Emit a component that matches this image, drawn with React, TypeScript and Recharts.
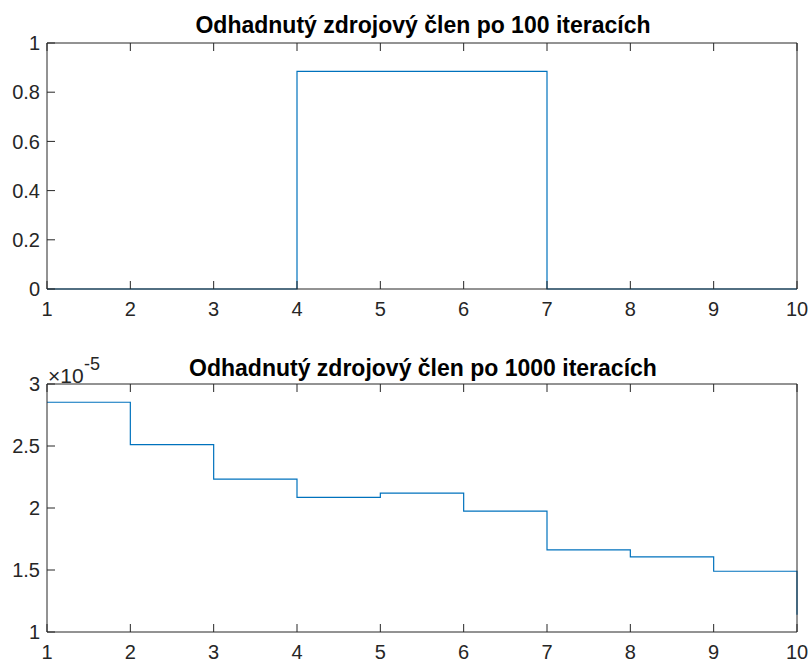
import { LineChart, Line, XAxis, YAxis } from 'recharts'

// ─── Data ──────────────────────────────────────────────────────────────────────

const xValues = [1, 2, 3, 4, 5, 6, 7, 8, 9, 10]
const xTicks = [1, 2, 3, 4, 5, 6, 7, 8, 9, 10]

// estimate after 100 iterations
const source100 = [0, 0, 0, 0.885, 0.885, 0.885, 0, 0, 0, 0]
const yTicks100 = [0, 0.2, 0.4, 0.6, 0.8, 1]

// estimate after 1000 iterations, in units of 1e-5
const source1000 = [2.853, 2.511, 2.233, 2.085, 2.12, 1.974, 1.663, 1.606, 1.49, 1.14]
const yTicks1000 = [1, 1.5, 2, 2.5, 3]

const title100 = 'Odhadnutý zdrojový člen po 100 iteracích'
const title1000 = 'Odhadnutý zdrojový člen po 1000 iteracích'

// ─── Style ─────────────────────────────────────────────────────────────────────

const AXIS = '#262626'
const LINE = '#0072BD'
const FONT = '"Liberation Sans", Arial, Helvetica, sans-serif'
const tickStyle = { fontSize: 20, fill: AXIS, fontFamily: FONT }
const noLabel = () => ''

interface PanelProps {
  values: number[]
  yDomain: [number, number]
  yTicks: number[]
  topPad: number
  bottomPad: number
  height: number
}

function StairsPanel({ values, yDomain, yTicks, topPad, bottomPad, height }: PanelProps) {
  const data = xValues.map((x, i) => ({ x, y: values[i] }))
  return (
    <LineChart width={811} height={height} data={data} margin={{ top: 0, right: 0, bottom: 0, left: 0 }}>
      <XAxis
        dataKey="x"
        type="number"
        domain={[1, 10]}
        ticks={xTicks}
        height={bottomPad}
        tickSize={-8}
        tickMargin={21}
        stroke={AXIS}
        tick={tickStyle}
        interval={0}
      />
      <XAxis
        xAxisId="top"
        orientation="top"
        dataKey="x"
        type="number"
        domain={[1, 10]}
        ticks={xTicks}
        height={topPad}
        tickSize={-8}
        stroke={AXIS}
        tickFormatter={noLabel}
        interval={0}
      />
      <YAxis
        type="number"
        domain={yDomain}
        ticks={yTicks}
        width={47}
        tickSize={-8}
        tickMargin={15}
        stroke={AXIS}
        tick={tickStyle}
        interval={0}
      />
      <YAxis
        yAxisId="right"
        orientation="right"
        type="number"
        domain={yDomain}
        ticks={yTicks}
        width={14}
        tickSize={-8}
        stroke={AXIS}
        tickFormatter={noLabel}
        interval={0}
      />
      <Line
        type="stepAfter"
        dataKey="y"
        stroke={LINE}
        strokeWidth={1.2}
        dot={false}
        isAnimationActive={false}
      />
    </LineChart>
  )
}

export default function App() {
  return (
    <div style={{ position: 'absolute', left: 0, top: 0, width: 811, height: 662, background: '#fff' }}>
      <div style={{ position: 'absolute', left: 0, top: 0 }}>
        <StairsPanel values={source100} yDomain={[0, 1]} yTicks={yTicks100} topPad={43} bottomPad={42} height={331} />
      </div>
      <div style={{ position: 'absolute', left: 0, top: 331 }}>
        <StairsPanel values={source1000} yDomain={[1, 3]} yTicks={yTicks1000} topPad={53} bottomPad={30} height={331} />
      </div>
      <svg width={811} height={662} style={{ position: 'absolute', left: 0, top: 0, pointerEvents: 'none' }}>
        <text x={423} y={33} textAnchor="middle" fontFamily={FONT} fontWeight="bold" fontSize={23} fill="#000">
          {title100}
        </text>
        <text x={423} y={376} textAnchor="middle" fontFamily={FONT} fontWeight="bold" fontSize={23} fill="#000">
          {title1000}
        </text>
        <text x={48} y={383} fontFamily={FONT} fontSize={21} fill={AXIS}>
          ×10
        </text>
        <text x={84} y={370} fontFamily={FONT} fontSize={18} fill={AXIS}>
          -5
        </text>
      </svg>
    </div>
  )
}
